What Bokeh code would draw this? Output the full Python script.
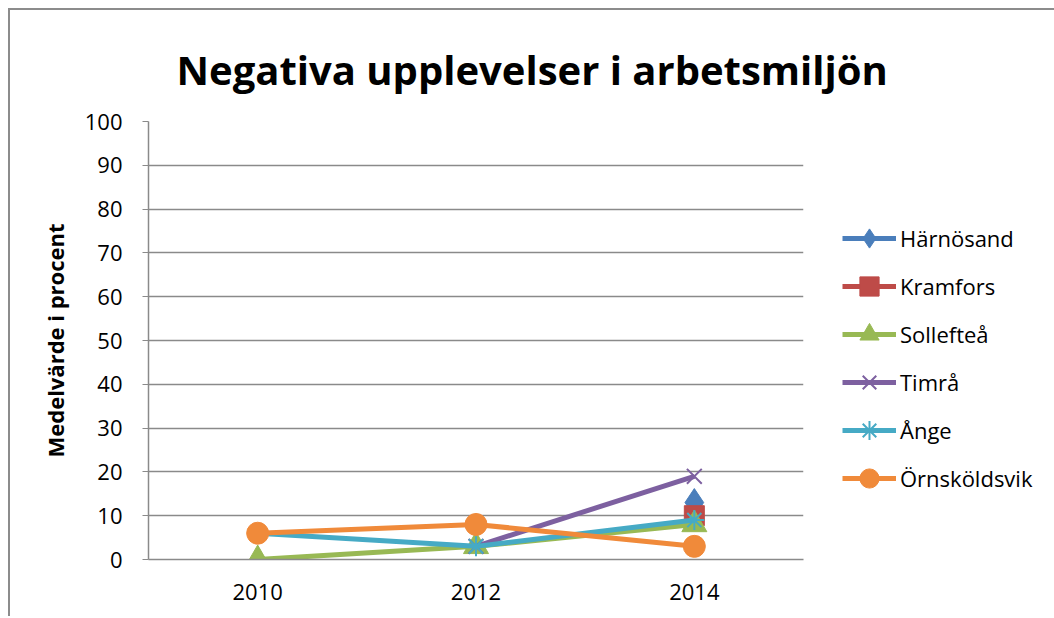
from bokeh.plotting import figure
from bokeh.models import Range1d, FactorRange, Legend, LegendItem, FixedTicker
from bokeh.embed import file_html
from bokeh.resources import INLINE
import numpy as np

years = ["2010", "2012", "2014"]
harnosand = [np.nan, np.nan, 13]
kramfors = [np.nan, np.nan, 10]
solleftea = [0, 3, 8]
timra = [np.nan, 3, 19]
ange = [6, 3, 9]
ornskoldsvik = [6, 8, 3]

series = [
    ("Härnösand", harnosand, "#4A7EBB", "diamond", 28),
    ("Kramfors", kramfors, "#BE4B48", "square", 20),
    ("Sollefteå", solleftea, "#98B954", "triangle", 25),
    ("Timrå", timra, "#7D60A0", "x", 21),
    ("Ånge", ange, "#46AAC5", "asterisk", 20),
    ("Örnsköldsvik", ornskoldsvik, "#F08A3A", "circle", 22),
]

FONT = "Open Sans"

p = figure(frame_width=655, frame_height=438, x_range=FactorRange(*years), y_range=Range1d(0, 100),
           output_backend="svg", toolbar_location=None,
           min_border_left=138, min_border_right=0, min_border_top=111, min_border_bottom=57)
p.styles = {"border-left": "2px solid #8c8c8c", "border-top": "2px solid #8c8c8c",
            "box-sizing": "border-box", "margin-left": "8px", "margin-top": "8px"}

p.title.text = "Negativa upplevelser i arbetsmiljön"
p.title.text_font = FONT
p.title.text_font_size = "40px"
p.title.text_font_style = "bold"
p.title.text_color = "black"
p.title.align = "left"
p.title.offset = 28
p.title.standoff = 50
p.outline_line_color = None

p.xgrid.grid_line_color = None
p.ygrid.grid_line_color = "#8a8a8a"
p.ygrid.grid_line_width = 1.5

p.yaxis.ticker = FixedTicker(ticks=list(range(0, 101, 10)))
p.yaxis.axis_line_color = "#8a8a8a"
p.yaxis.axis_line_width = 1.5
p.yaxis.major_tick_line_color = "#8a8a8a"
p.yaxis.major_tick_out = 6
p.yaxis.major_tick_in = 0
p.yaxis.minor_tick_line_color = None
p.yaxis.major_label_text_font = FONT
p.yaxis.major_label_text_font_size = "22px"
p.yaxis.major_label_text_color = "black"
p.yaxis.major_label_standoff = 20
p.yaxis.axis_label = "Medelvärde i procent"
p.yaxis.axis_label_text_font = FONT
p.yaxis.axis_label_text_font_size = "22px"
p.yaxis.axis_label_text_font_style = "bold"
p.yaxis.axis_label_text_color = "black"
p.yaxis.axis_label_standoff = 12

p.xaxis.axis_line_color = "#8a8a8a"
p.xaxis.axis_line_width = 1.5
p.xaxis.major_tick_line_color = None
p.xaxis.minor_tick_line_color = None
p.xaxis.major_label_text_font = FONT
p.xaxis.major_label_text_font_size = "22px"
p.xaxis.major_label_text_color = "black"
p.xaxis.major_label_standoff = 18

items = []
for name, vals, color, marker, size in series:
    lr = p.line(years, vals, line_color=color, line_width=5)
    if marker in ("x", "asterisk"):
        mr = p.scatter(years, vals, marker=marker, size=size, line_color=color, line_width=2)
    else:
        mr = p.scatter(years, vals, marker=marker, size=size, fill_color=color, line_color=color)
    items.append(LegendItem(label=name, renderers=[lr, mr]))

legend = Legend(items=items, location=(39, 57), orientation="vertical",
                glyph_width=54, glyph_height=48, label_text_font=FONT,
                label_text_font_size="22px", label_text_color="black",
                label_standoff=4, spacing=0,
                padding=0, margin=0, border_line_color=None, background_fill_alpha=0)
p.add_layout(legend, "right")

open("out.html", "w").write(file_html(p, INLINE))
